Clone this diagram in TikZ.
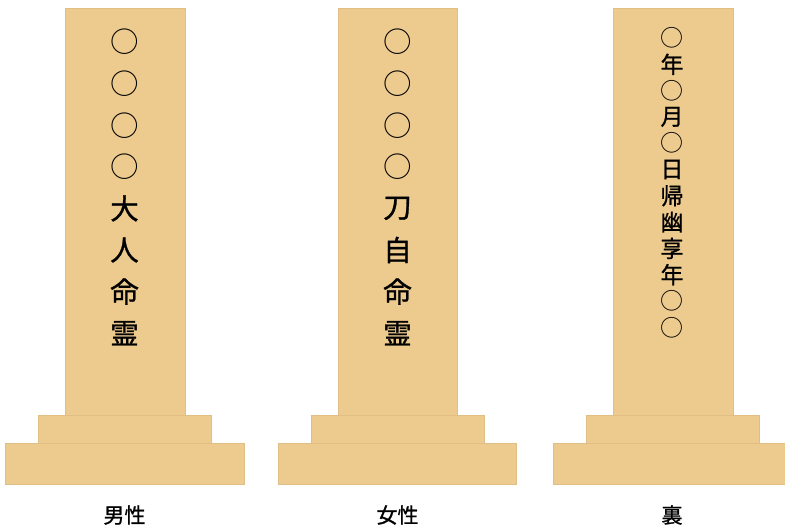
\documentclass[tikz,border=0pt]{standalone}
\usepackage{fontspec}
\newfontfamily\cjk[FakeBold=1.0]{Noto Sans CJK JP}
\newfontfamily\cjkthin{Noto Sans CJK JP}
\newcommand\maru{{\cjkthin ○}}
\definecolor{stonefill}{RGB}{237,203,143}
\definecolor{stoneline}{RGB}{224,190,133}
\tikzset{
  stone/.style={draw=stoneline, fill=stonefill, line width=0.8pt},
  bigch/.style={font=\cjk\fontsize{28.5}{28.5}\selectfont, inner sep=0pt, anchor=center},
  smallch/.style={font=\cjk\fontsize{23}{23}\selectfont, inner sep=0pt, anchor=center},
  caption/.style={font=\cjk\fontsize{21}{21}\selectfont, inner sep=0pt, anchor=center}
}
\begin{document}
\begin{tikzpicture}[x=1pt,y=-1pt]
\useasboundingbox (0,0) rectangle (785,528);
% left monument
\draw[stone] (5,443) rectangle (244,484);
\draw[stone] (38,415) rectangle (211,443);
\draw[stone] (65,8) rectangle (185,415);
% middle monument
\draw[stone] (278,443) rectangle (516,484);
\draw[stone] (311,415) rectangle (484,443);
\draw[stone] (338,8) rectangle (457,415);
% right monument
\draw[stone] (553,443) rectangle (785,484);
\draw[stone] (586,415) rectangle (759,443);
\draw[stone] (613,8) rectangle (733,415);
% left text
\foreach \c [count=\i] in {\maru,\maru,\maru,\maru,大,人,命,霊}
  \node[bigch] (L\i) at (124.5,{42+41.6*(\i-1)}) {\c};
% middle text
\foreach \c [count=\i] in {\maru,\maru,\maru,\maru,刀,自,命,霊}
  \node[bigch] (M\i) at (397.5,{42+41.6*(\i-1)}) {\c};
% right text
\foreach \c [count=\i] in {\maru,年,\maru,月,\maru,日,帰,幽,享,年,\maru,\maru}
  \node[smallch] (R\i) at (672,{38+26.3*(\i-1)}) {\c};
% captions
\node[caption] (capL) at (124.5,515) {男性};
\node[caption] (capM) at (397.5,515) {女性};
\node[caption] (capR) at (672,515) {裏};
\end{tikzpicture}
\end{document}
